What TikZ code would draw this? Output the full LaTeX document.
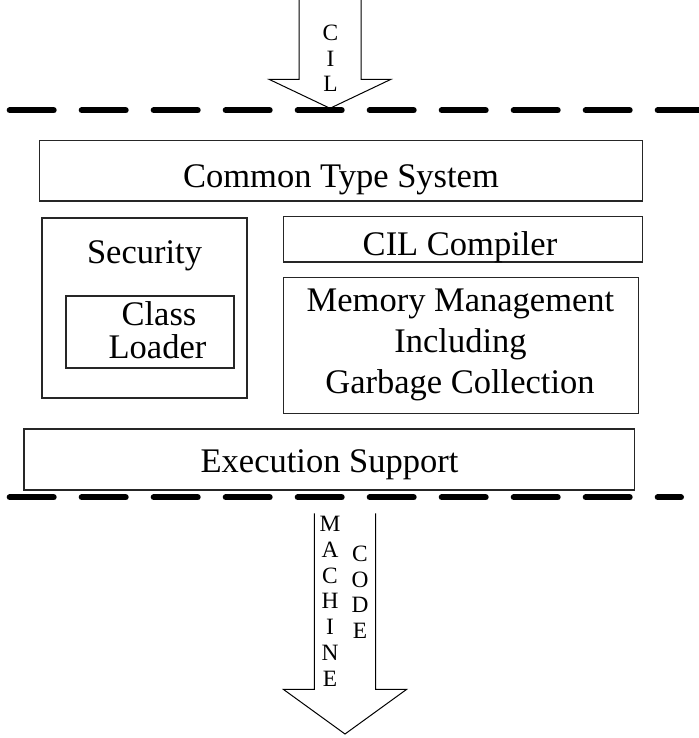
\documentclass[tikz,border=0pt]{standalone}
\usepackage{fontspec}
\setmainfont{Liberation Serif}
\begin{document}
\begin{tikzpicture}[x=1pt,y=-1pt,
  box/.style={draw=black!85, line width=1.1pt, inner sep=0pt, outer sep=0pt},
  lbl/.style={font=\fontsize{34.5}{41}\selectfont, anchor=base, inner sep=0pt},
  vl/.style={font=\fontsize{23.4}{26}\selectfont, anchor=base, inner sep=0pt},
  sepline/.style={line width=6pt, line cap=round, dash pattern=on 44pt off 28pt},
  bigarrow/.style={draw=black, line width=1pt, line join=miter}]
\useasboundingbox (0,0) rectangle (698,738);

% separator lines
\coordinate (t1) at (9.7,110.3);
\coordinate (t2) at (705,110.3);
\coordinate (b1) at (9.7,497.3);
\coordinate (b2) at (681,497.3);
\draw[sepline] (t1) -- (t2);
\draw[sepline] (b1) -- (b2);

% top arrow (CIL)
\draw[bigarrow] (299,-3) -- (299,79.3) -- (269,79.3) -- (330,108.3) -- (391,79.3) -- (361,79.3) -- (361,-3);
\node[vl] (c1) at (330.5,40.7) {C};
\node[vl] (c2) at (330.5,66.2) {I};
\node[vl] (c3) at (330.5,91.7) {L};

% boxes
\node[box, minimum width=603, minimum height=60.3] (cts) at (340.8,170.85) {};
\node[lbl] (ctst) at (341,187) {Common Type System};

\node[box, minimum width=205, minimum height=180] (sec) at (144.5,308) {};
\node[lbl] (sect) at (144.5,263) {Security};

\node[box, minimum width=168, minimum height=72] (cl) at (150,332) {};
\node[lbl] (clt1) at (159,325) {Class};
\node[lbl] (clt2) at (157.5,358) {Loader};

\node[box, minimum width=359, minimum height=45.5] (cil) at (462.8,239.25) {};
\node[lbl] (cilt) at (460,255) {CIL Compiler};

\node[box, minimum width=355.4, minimum height=136] (mem) at (461,345.3) {};
\node[lbl] (memt1) at (460.5,311) {Memory Management};
\node[lbl] (memt2) at (460.5,352) {Including};
\node[lbl] (memt3) at (460,393) {Garbage Collection};

\node[box, minimum width=610.7, minimum height=61] (exe) at (329.35,459.5) {};
\node[lbl] (exet) at (329.5,472.7) {Execution Support};

% bottom arrow (MACHINE CODE)
\draw[bigarrow] (314.3,513.3) -- (314.3,689.3) -- (283.3,689.3) -- (345,734) -- (406.7,689.3) -- (375.7,689.3) -- (375.7,513.3);
\foreach \ch [count=\i from 0] in {M,A,C,H,I,N,E}
  \node[vl] (mc\i) at (330,531.7+25.72*\i) {\ch};
\foreach \ch [count=\i from 0] in {C,O,D,E}
  \node[vl] (cd\i) at (360,561.7+25.53*\i) {\ch};
\end{tikzpicture}
\end{document}
